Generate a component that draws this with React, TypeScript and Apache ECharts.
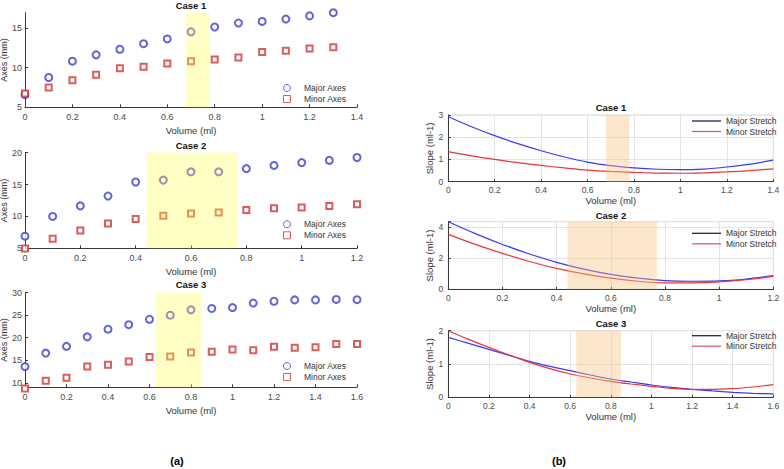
import React, { useEffect, useRef } from "react";
import * as echarts from "echarts";

// ---- (a) measured axes vs. injected volume ----
const volumeA1 = [0, 0.1, 0.2, 0.3, 0.4, 0.5, 0.6, 0.7, 0.8, 0.9, 1.0, 1.1, 1.2, 1.3];
const majorAxes1 = [6.6, 8.75, 10.8, 11.6, 12.3, 13.0, 13.6, 14.5, 15.1, 15.6, 15.8, 16.1, 16.5, 16.9];
const minorAxes1 = [6.75, 7.5, 8.4, 9.1, 9.9, 10.1, 10.5, 10.8, 11.0, 11.25, 11.95, 12.1, 12.4, 12.55];

const volumeA2 = [0, 0.1, 0.2, 0.3, 0.4, 0.5, 0.6, 0.7, 0.8, 0.9, 1.0, 1.1, 1.2];
const majorAxes2 = [6.9, 10.0, 11.65, 13.2, 15.4, 15.7, 17.0, 17.0, 17.5, 18.0, 18.45, 18.8, 19.25];
const minorAxes2 = [4.95, 6.5, 7.8, 8.9, 9.6, 10.1, 10.45, 10.6, 11.0, 11.3, 11.4, 11.65, 11.9];

const volumeA3 = [0, 0.1, 0.2, 0.3, 0.4, 0.5, 0.6, 0.7, 0.8, 0.9, 1.0, 1.1, 1.2, 1.3, 1.4, 1.5, 1.6];
const majorAxes3 = [13.6, 16.6, 18.1, 20.2, 21.9, 22.9, 24.1, 25.0, 26.2, 26.5, 26.7, 27.7, 28.1, 28.4, 28.4, 28.5, 28.45];
const minorAxes3 = [8.75, 10.45, 11.1, 13.6, 14.0, 14.7, 15.7, 15.85, 16.75, 16.9, 17.4, 17.2, 18.0, 17.8, 17.9, 18.6, 18.6];

// ---- (b) fitted slope curves ----
const volumeB1 = [0, 0.1, 0.2, 0.3, 0.4, 0.5, 0.6, 0.7, 0.8, 0.9, 1.0, 1.1, 1.2, 1.3, 1.4];
const majorSlope1 = [2.92, 2.47, 2.07, 1.71, 1.39, 1.11, 0.88, 0.72, 0.62, 0.56, 0.54, 0.57, 0.66, 0.79, 0.97];
const minorSlope1 = [1.35, 1.16, 1.0, 0.86, 0.73, 0.62, 0.52, 0.46, 0.42, 0.39, 0.38, 0.4, 0.44, 0.5, 0.58];

const volumeB2 = [0, 0.1, 0.2, 0.3, 0.4, 0.5, 0.6, 0.7, 0.8, 0.9, 1.0, 1.1, 1.2];
const majorSlope2 = [4.37, 3.6, 2.9, 2.28, 1.74, 1.3, 0.96, 0.72, 0.56, 0.52, 0.54, 0.66, 0.88];
const minorSlope2 = [3.55, 2.9, 2.32, 1.8, 1.35, 1.0, 0.72, 0.52, 0.42, 0.42, 0.48, 0.62, 0.84];

const volumeB3 = [0, 0.1, 0.2, 0.3, 0.4, 0.5, 0.6, 0.7, 0.8, 0.9, 1.0, 1.1, 1.2, 1.3, 1.4, 1.5, 1.6];
const majorSlope3 = [1.8, 1.62, 1.44, 1.26, 1.08, 0.93, 0.8, 0.67, 0.55, 0.46, 0.37, 0.3, 0.24, 0.19, 0.15, 0.12, 0.1];
const minorSlope3 = [2.0, 1.74, 1.5, 1.27, 1.05, 0.86, 0.7, 0.58, 0.48, 0.4, 0.33, 0.27, 0.24, 0.24, 0.26, 0.31, 0.38];

// highlighted volume ranges per case
const band1 = [0.68, 0.78];
const band2 = [0.44, 0.77];
const band3 = [0.63, 0.85];

const caseTitles = ["Case 1", "Case 2", "Case 3"];
const xMaxA = [1.4, 1.2, 1.6];
const yRangeA = [[5, 16.9], [5, 20], [9, 30]];
const yTicksA = [[5, 10, 15], [5, 10, 15, 20], [10, 15, 20, 25, 30]];
const xMaxB = [1.4, 1.2, 1.6];
const yMaxB = [3, 4.37, 2];
const yStepB = [1, 2, 1];

const FONT = '"Liberation Sans", Arial, Helvetica, sans-serif';
const BLUE = "#3c3cd2";
const RED = "#d03434";
const LINE_BLUE = "#3a3af0";
const LINE_RED = "#e8363c";
const AXIS = "#3a3a3a";
const LABEL = "#4a4a4a";
const SQUARE_ICON = "path://M0,0L10,0L10,10L0,10Z";

const pairs = (xs: number[], ys: number[]) => xs.map((x, i) => [x, ys[i]]);

export default function App() {
  const ref = useRef<HTMLDivElement>(null);

  useEffect(() => {
    if (!ref.current) return;
    const chart = echarts.init(ref.current, undefined, { renderer: "svg" });

    const gridsA = [
      { left: 25, top: 12.7, width: 332, height: 94.6 },
      { left: 25, top: 152.7, width: 332, height: 95.6 },
      { left: 25, top: 292.7, width: 332, height: 94.6 },
    ];
    const gridsB = [
      { left: 448.3, top: 115, width: 325, height: 66.7 },
      { left: 448.3, top: 221.7, width: 325, height: 67.6 },
      { left: 448.3, top: 330.7, width: 325, height: 66.6 },
    ];

    const grid: any[] = [
      ...gridsA.map((g) => ({ ...g, show: false, outerBoundsMode: "none" })),
      ...gridsB.map((g) => ({
        ...g,
        show: true,
        backgroundColor: "transparent",
        borderColor: "#d6d6d6",
        borderWidth: 1,
        outerBoundsMode: "none",
      })),
    ];

    const labelStyle = (size: number, margin: number) => ({
      color: LABEL,
      fontSize: size,
      fontFamily: FONT,
      margin,
    });
    const nameStyle = { color: "#333", fontSize: 9.5, fontFamily: FONT };

    const xAxis: any[] = [];
    const yAxis: any[] = [];

    for (let i = 0; i < 3; i++) {
      xAxis.push({
        type: "value",
        gridIndex: i,
        min: 0,
        max: xMaxA[i],
        interval: 0.2,
        name: "Volume (ml)",
        nameLocation: "middle",
        nameGap: 18,
        nameTextStyle: nameStyle,
        axisLine: { show: true, onZero: false, lineStyle: { color: AXIS, width: 1 } },
        axisTick: { show: true, inside: true, length: 3, lineStyle: { color: AXIS } },
        axisLabel: labelStyle(9, 5),
        splitLine: { show: false },
      });
      yAxis.push({
        type: "value",
        gridIndex: i,
        min: yRangeA[i][0],
        max: yRangeA[i][1],
        name: "Axes (mm)",
        nameLocation: "middle",
        nameGap: 12,
        nameTextStyle: { ...nameStyle, fontSize: 9 },
        axisLine: { show: true, onZero: false, lineStyle: { color: AXIS, width: 1 } },
        axisTick: {
          show: true,
          inside: true,
          length: 3,
          customValues: yTicksA[i],
          lineStyle: { color: AXIS },
        },
        axisLabel: { ...labelStyle(9, 3), customValues: yTicksA[i] },
        splitLine: { show: false },
      });
    }
    for (let i = 0; i < 3; i++) {
      const step = yStepB[i];
      xAxis.push({
        type: "value",
        gridIndex: 3 + i,
        min: 0,
        max: xMaxB[i],
        interval: 0.2,
        name: "Volume (ml)",
        nameLocation: "middle",
        nameGap: 13,
        nameTextStyle: nameStyle,
        axisLine: { show: true, onZero: false, lineStyle: { color: AXIS, width: 1 } },
        axisTick: { show: true, inside: true, length: 2.5, lineStyle: { color: AXIS } },
        axisLabel: labelStyle(8.5, 4),
        splitLine: { show: true, lineStyle: { color: "#e4e4e4", width: 1 } },
      });
      yAxis.push({
        type: "value",
        gridIndex: 3 + i,
        min: 0,
        max: yMaxB[i],
        interval: step,
        name: "Slope (ml-1)",
        nameLocation: "middle",
        nameGap: 10,
        nameTextStyle: nameStyle,
        axisLine: { show: true, onZero: false, lineStyle: { color: AXIS, width: 1 } },
        axisTick: { show: true, inside: true, length: 2.5, lineStyle: { color: AXIS } },
        axisLabel: {
          ...labelStyle(8.5, 5),
          formatter: (v: number) =>
            Math.abs(v / step - Math.round(v / step)) < 1e-6 ? String(v) : "",
        },
        splitLine: { show: true, lineStyle: { color: "#e4e4e4", width: 1 } },
      });
    }

    const bands = [band1, band2, band3];
    const scatterData = [
      [pairs(volumeA1, majorAxes1), pairs(volumeA1, minorAxes1)],
      [pairs(volumeA2, majorAxes2), pairs(volumeA2, minorAxes2)],
      [pairs(volumeA3, majorAxes3), pairs(volumeA3, minorAxes3)],
    ];
    const slopeData = [
      [pairs(volumeB1, majorSlope1), pairs(volumeB1, minorSlope1)],
      [pairs(volumeB2, majorSlope2), pairs(volumeB2, minorSlope2)],
      [pairs(volumeB3, majorSlope3), pairs(volumeB3, minorSlope3)],
    ];

    const series: any[] = [];
    for (let i = 0; i < 3; i++) {
      series.push({
        type: "scatter",
        name: "Major Axes",
        xAxisIndex: i,
        yAxisIndex: i,
        data: scatterData[i][0],
        symbol: "emptyCircle",
        symbolSize: 7,
        clip: false,
        itemStyle: { color: BLUE, borderColor: BLUE, borderWidth: 1 },
        markArea: {
          silent: true,
          z: 5,
          itemStyle: { color: "rgba(255,255,70,0.32)" },
          data: [[{ xAxis: bands[i][0] }, { xAxis: bands[i][1] }]],
        },
      });
      series.push({
        type: "scatter",
        name: "Minor Axes",
        xAxisIndex: i,
        yAxisIndex: i,
        data: scatterData[i][1],
        symbol: "emptyRect",
        symbolSize: 6,
        clip: false,
        itemStyle: { color: RED, borderColor: RED, borderWidth: 1 },
      });
    }
    for (let i = 0; i < 3; i++) {
      series.push({
        type: "line",
        name: "Major Stretch",
        xAxisIndex: 3 + i,
        yAxisIndex: 3 + i,
        data: slopeData[i][0],
        smooth: 0.3,
        showSymbol: false,
        lineStyle: { color: LINE_BLUE, width: 1.2 },
        itemStyle: { color: LINE_BLUE },
        markArea: {
          silent: true,
          z: 5,
          itemStyle: { color: "rgba(248,196,130,0.4)" },
          data: [[{ xAxis: bands[i][0] }, { xAxis: bands[i][1] }]],
        },
      });
      series.push({
        type: "line",
        name: "Minor Stretch",
        xAxisIndex: 3 + i,
        yAxisIndex: 3 + i,
        data: slopeData[i][1],
        smooth: 0.3,
        showSymbol: false,
        lineStyle: { color: LINE_RED, width: 1.2 },
        itemStyle: { color: LINE_RED },
      });
    }

    const legendTopsA = [83, 219.3, 361];
    const legendTopsB = [116, 228.3, 330.7];
    const legend: any[] = [
      ...legendTopsA.map((top) => ({
        orient: "vertical",
        left: 283,
        top,
        padding: 0,
        itemGap: 1,
        itemWidth: 24,
        itemHeight: 7,
        symbolKeepAspect: true,
        selectedMode: false,
        textStyle: { color: "#333", fontSize: 8.5, fontFamily: FONT, lineHeight: 10 },
        data: [
          {
            name: "Major Axes",
            icon: "circle",
            itemStyle: { color: "#fff", borderColor: BLUE, borderWidth: 1 },
          },
          {
            name: "Minor Axes",
            icon: SQUARE_ICON,
            itemStyle: { color: "#fff", borderColor: RED, borderWidth: 1 },
          },
        ],
      })),
      ...legendTopsB.map((top) => ({
        orient: "vertical",
        left: 692,
        top,
        padding: 0,
        itemGap: 0.5,
        itemWidth: 29,
        itemHeight: 1.3,
        selectedMode: false,
        textStyle: { color: "#333", fontSize: 8.5, fontFamily: FONT, lineHeight: 10 },
        data: [
          { name: "Major Stretch", icon: "rect", itemStyle: { color: "#22224e" } },
          { name: "Minor Stretch", icon: "rect", itemStyle: { color: "#e25a66" } },
        ],
      })),
    ];

    const titleY_A = [5.5, 145, 284.5];
    const titleY_B = [107, 215, 323];
    const titleStyle = (text: string) => ({
      text,
      fill: "#111",
      font: `bold 9.5px ${FONT}`,
      align: "center",
      verticalAlign: "middle",
    });
    const graphic: any[] = [
      ...caseTitles.map((t, i) => ({ type: "text", x: 191, y: titleY_A[i], style: titleStyle(t) })),
      ...caseTitles.map((t, i) => ({ type: "text", x: 611, y: titleY_B[i], style: titleStyle(t) })),
      {
        type: "text",
        x: 177,
        y: 461,
        style: { text: "(a)", fill: "#000", font: `bold 11px ${FONT}`, align: "center", verticalAlign: "middle" },
      },
      {
        type: "text",
        x: 559,
        y: 461,
        style: { text: "(b)", fill: "#000", font: `bold 11px ${FONT}`, align: "center", verticalAlign: "middle" },
      },
    ];

    chart.setOption({
      animation: false,
      backgroundColor: "#ffffff",
      textStyle: { fontFamily: FONT },
      grid,
      xAxis,
      yAxis,
      series,
      legend,
      graphic,
    });

    return () => chart.dispose();
  }, []);

  return (
    <div
      ref={ref}
      style={{ position: "fixed", left: 0, top: 0, width: 784, height: 469, background: "#fff" }}
    />
  );
}
